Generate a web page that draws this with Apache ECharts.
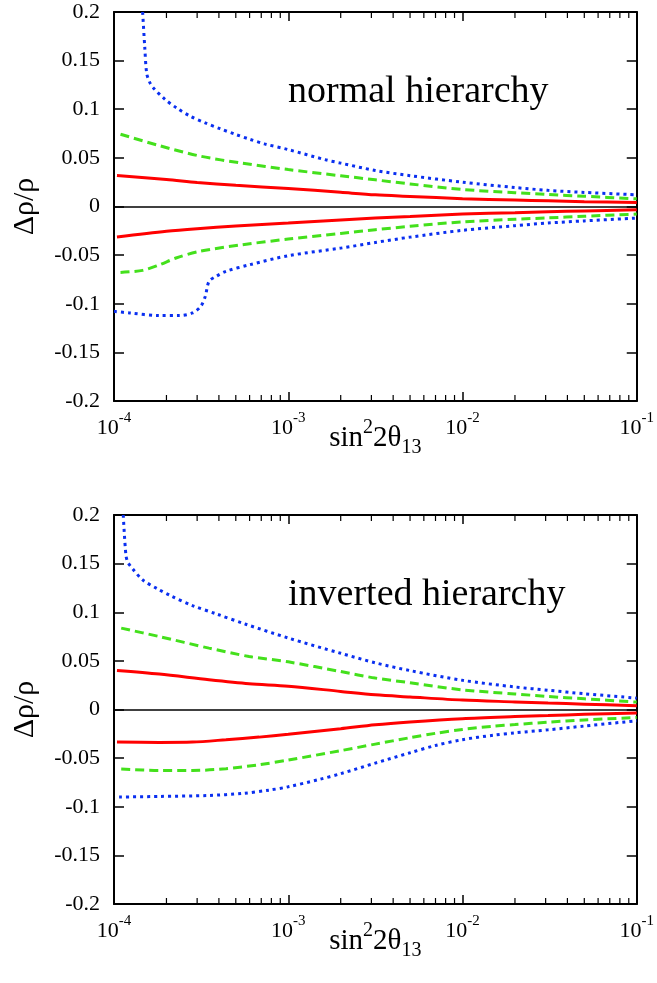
<!DOCTYPE html>
<html>
<head>
<meta charset="utf-8">
<script src="https://cdn.jsdelivr.net/npm/echarts@6/dist/echarts.min.js"></script>
<style>
html,body{margin:0;padding:0;background:#fff;}
#c{width:657px;height:983px;}
</style>
</head>
<body>
<div id="c"></div>
<script>
// ---- axis definitions ----
var xTickExponents = ['-4', '-3', '-2', '-1'];
var xMinorTicks = [2e-4,3e-4,4e-4,5e-4,6e-4,7e-4,8e-4,9e-4,2e-3,3e-3,4e-3,5e-3,6e-3,7e-3,8e-3,9e-3,2e-2,3e-2,4e-2,5e-2,6e-2,7e-2,8e-2,9e-2];
var yTickValues = [-0.2, -0.15, -0.1, -0.05, 0, 0.05, 0.1, 0.15, 0.2];
var panelTitles = ['normal hierarchy', 'inverted hierarchy'];

// ---- normal hierarchy ----
var nhRedUp = [[1.04e-4,0.0318],[2e-4,0.0278],[3e-4,0.0248],[5e-4,0.0218],[1e-3,0.0185],[2e-3,0.0146],[3.16e-3,0.0120],[5e-3,0.0104],[1e-2,0.0080],[2e-2,0.0066],[3.1e-2,0.0058],[5e-2,0.0050],[1e-1,0.0041]];
var nhRedLo = [[1.04e-4,-0.0314],[2e-4,-0.0255],[3e-4,-0.0228],[5e-4,-0.0200],[1e-3,-0.0170],[2e-3,-0.0139],[3.16e-3,-0.0119],[5e-3,-0.0102],[1e-2,-0.0077],[2e-2,-0.0063],[3.1e-2,-0.0054],[5e-2,-0.0045],[1e-1,-0.0034]];
var nhGreenUp = [[1.09e-4,0.0743],[1.82e-4,0.0626],[3.08e-4,0.0520],[5.46e-4,0.0445],[1e-3,0.0380],[2e-3,0.0316],[3.16e-3,0.0274],[5e-3,0.0232],[1e-2,0.0175],[2e-2,0.0142],[3.1e-2,0.0123],[5e-2,0.0105],[1e-1,0.0079]];
var nhGreenLo = [[1.09e-4,-0.0678],[1.46e-4,-0.0657],[1.82e-4,-0.0600],[2.27e-4,-0.0530],[3.08e-4,-0.0462],[5.46e-4,-0.0393],[1e-3,-0.0335],[2e-3,-0.0277],[3.16e-3,-0.0239],[5e-3,-0.0204],[1e-2,-0.0158],[2e-2,-0.0131],[3.1e-2,-0.0117],[5e-2,-0.0100],[1e-1,-0.0078]];
var nhBlueUp = [[1.46e-4,0.200],[1.50e-4,0.165],[1.54e-4,0.137],[1.60e-4,0.128],[1.67e-4,0.1226],[1.95e-4,0.1106],[2.30e-4,0.1010],[2.74e-4,0.0928],[3.34e-4,0.0859],[4.06e-4,0.0800],[4.95e-4,0.0743],[6.0e-4,0.0692],[7.3e-4,0.0644],[1e-3,0.0585],[1.64e-3,0.0480],[2e-3,0.0446],[3.16e-3,0.0370],[5e-3,0.0317],[1e-2,0.0250],[2e-2,0.0195],[3.1e-2,0.0166],[5e-2,0.0145],[1e-1,0.0120]];
var nhBlueLo = [[1e-4,-0.1078],[1.23e-4,-0.1095],[1.82e-4,-0.1122],[2.37e-4,-0.1122],[2.82e-4,-0.1095],[3.15e-4,-0.1027],[3.34e-4,-0.0924],[3.51e-4,-0.0770],[3.85e-4,-0.0719],[4.39e-4,-0.0667],[6.0e-4,-0.0599],[1e-3,-0.0506],[2e-3,-0.0428],[3.16e-3,-0.0370],[5e-3,-0.0315],[1e-2,-0.0245],[2e-2,-0.0197],[3.1e-2,-0.0170],[5e-2,-0.0148],[1e-1,-0.0119]];

// ---- inverted hierarchy ----
var ihRedUp = [[1.04e-4,0.0401],[1.82e-4,0.0364],[3.51e-4,0.0305],[5.96e-4,0.0264],[1e-3,0.0240],[2e-3,0.0186],[3.16e-3,0.0151],[5e-3,0.0129],[1e-2,0.0097],[2e-2,0.0078],[3.1e-2,0.0066],[5e-2,0.0055],[1e-1,0.0038]];
var ihRedLo = [[1.04e-4,-0.0335],[1.82e-4,-0.0339],[2.82e-4,-0.0335],[4.39e-4,-0.0311],[6.8e-4,-0.0284],[1e-3,-0.0255],[2e-3,-0.0198],[3.16e-3,-0.0157],[5e-3,-0.0128],[1e-2,-0.0094],[2e-2,-0.0073],[3.1e-2,-0.0062],[5e-2,-0.0050],[1e-1,-0.0037]];
var ihGreenUp = [[1.1e-4,0.0837],[1.82e-4,0.0750],[3.51e-4,0.0631],[5.96e-4,0.0545],[1e-3,0.0490],[2e-3,0.0390],[3.16e-3,0.0323],[5e-3,0.0275],[1e-2,0.0202],[2e-2,0.0160],[3.1e-2,0.0134],[5e-2,0.0110],[1e-1,0.0076]];
var ihGreenLo = [[1.1e-4,-0.0613],[1.82e-4,-0.0627],[2.82e-4,-0.0627],[4.39e-4,-0.0609],[6.8e-4,-0.0568],[1e-3,-0.0520],[2e-3,-0.0423],[3.16e-3,-0.0356],[5e-3,-0.0290],[7e-3,-0.0245],[1e-2,-0.0205],[1.5e-2,-0.0172],[2e-2,-0.0155],[3.1e-2,-0.0130],[5e-2,-0.0108],[1e-1,-0.0082]];
var ihBlueUp = [[1.13e-4,0.200],[1.17e-4,0.159],[1.20e-4,0.1515],[1.28e-4,0.1446],[1.46e-4,0.1333],[1.78e-4,0.1240],[2.12e-4,0.1169],[2.82e-4,0.1069],[3.85e-4,0.0984],[5.7e-4,0.0877],[1e-3,0.0735],[2e-3,0.0578],[3.16e-3,0.0480],[5e-3,0.0400],[1e-2,0.0300],[2e-2,0.0232],[3.1e-2,0.0198],[5e-2,0.0162],[1e-1,0.0117]];
var ihBlueLo = [[1.07e-4,-0.0900],[1.82e-4,-0.0894],[3.51e-4,-0.0884],[5.46e-4,-0.0863],[7.76e-4,-0.0829],[1e-3,-0.0795],[1.5e-3,-0.0720],[2e-3,-0.0660],[3.16e-3,-0.0551],[5e-3,-0.0445],[7e-3,-0.0370],[1e-2,-0.0310],[1.5e-2,-0.0265],[2e-2,-0.0240],[3.1e-2,-0.0209],[5e-2,-0.0170],[1e-1,-0.0116]];

var panels = [
  [nhRedUp, nhRedLo, nhGreenUp, nhGreenLo, nhBlueUp, nhBlueLo],
  [ihRedUp, ihRedLo, ihGreenUp, ihGreenLo, ihBlueUp, ihBlueLo]
];

var FONT = '"Liberation Serif", "Times New Roman", serif';
var RED = '#ff0000', GREEN = '#44e01c', BLUE = '#0a2ff0';
var styles = [
  {color: RED, type: 'solid'}, {color: RED, type: 'solid'},
  {color: GREEN, type: [9, 5]}, {color: GREEN, type: [9, 5]},
  {color: BLUE, type: [3, 4]}, {color: BLUE, type: [3, 4]}
];

var gridTops = [12, 515];
var grids = [], xAxes = [], yAxes = [], series = [], titles = [];

function xLabelFmt(v) {
  var e = Math.round(Math.log(v) / Math.LN10);
  return '{b|10}{s|' + xTickExponents[e + 4] + '}';
}
function yLabelFmt(v) {
  for (var i = 0; i < yTickValues.length; i++) {
    if (Math.abs(yTickValues[i] - v) < 1e-9) return String(yTickValues[i]);
  }
  return '';
}

var minorData = xMinorTicks.map(function (v) { return [v, 0]; });

for (var p = 0; p < 2; p++) {
  grids.push({left: 114, top: gridTops[p], width: 525, height: 389, containLabel: false});
  var axisLine = {show: true, onZero: false, lineStyle: {color: '#000', width: 2}};
  xAxes.push({
    type: 'log', logBase: 10, min: 1e-4, max: 1e-1, gridIndex: p, position: 'bottom',
    axisLine: axisLine,
    axisTick: {show: true, inside: true, length: 9, lineStyle: {color: '#000', width: 1.5}},
    minorTick: {show: false},
    splitLine: {show: false},
    axisLabel: {
      show: true, margin: 10, showMinLabel: true, showMaxLabel: true,
      formatter: xLabelFmt, color: '#000',
      rich: {
        b: {fontFamily: FONT, fontSize: 22, color: '#000', lineHeight: 28, verticalAlign: 'bottom'},
        s: {fontFamily: FONT, fontSize: 15, color: '#000', lineHeight: 28, verticalAlign: 'top'}
      }
    },
    name: '{a|sin}{p|2}{a|2θ}{d|13}',
    nameLocation: 'middle', nameGap: 17, nameMoveOverlap: false,
    nameTextStyle: {
      rich: {
        a: {fontFamily: FONT, fontSize: 29, color: '#000', lineHeight: 40, verticalAlign: 'middle'},
        p: {fontFamily: FONT, fontSize: 20, color: '#000', lineHeight: 40, verticalAlign: 'top'},
        d: {fontFamily: FONT, fontSize: 20, color: '#000', lineHeight: 40, verticalAlign: 'bottom'}
      }
    }
  });
  xAxes.push({
    type: 'log', logBase: 10, min: 1e-4, max: 1e-1, gridIndex: p, position: 'top',
    axisLine: axisLine,
    axisTick: {show: true, inside: true, length: 9, lineStyle: {color: '#000', width: 1.5}},
    minorTick: {show: false},
    splitLine: {show: false}, axisLabel: {show: false}
  });
  yAxes.push({
    type: 'value', min: -0.2, max: 0.2, interval: 0.05, gridIndex: p, position: 'left',
    axisLine: axisLine,
    axisTick: {show: true, inside: true, length: 10, lineStyle: {color: '#000', width: 1.5}},
    splitLine: {show: false},
    axisLabel: {show: true, margin: 14, formatter: yLabelFmt, color: '#000', fontFamily: FONT, fontSize: 22},
    name: 'Δρ/ρ', nameLocation: 'middle', nameGap: 74, nameRotate: 90, nameMoveOverlap: false,
    nameTextStyle: {fontFamily: FONT, fontSize: 30, color: '#000'}
  });
  yAxes.push({
    type: 'value', min: -0.2, max: 0.2, interval: 0.05, gridIndex: p, position: 'right',
    axisLine: axisLine,
    axisTick: {show: true, inside: true, length: 10, lineStyle: {color: '#000', width: 1.5}},
    splitLine: {show: false}, axisLabel: {show: false}
  });
  for (var s = 0; s < 6; s++) {
    var ser = {
      type: 'line', xAxisIndex: p * 2, yAxisIndex: p * 2,
      data: panels[p][s], showSymbol: false, symbol: 'none', smooth: 0.3,
      lineStyle: {color: styles[s].color, width: 3, type: styles[s].type, cap: 'butt'},
      silent: true, animation: false, z: 3
    };
    if (s === 0) {
      ser.markLine = {
        silent: true, symbol: ['none', 'none'], label: {show: false}, animation: false,
        lineStyle: {color: '#000', width: 1.5, type: 'solid'},
        data: [{yAxis: 0}]
      };
    }
    series.push(ser);
  }
  series.push({
    type: 'custom', xAxisIndex: p * 2, yAxisIndex: p * 2, silent: true, clip: false,
    encode: {x: 0, y: 1}, data: minorData, z: 5, animation: false,
    renderItem: function (params, api) {
      var x = api.value(0);
      var b = api.coord([x, -0.2]);
      var t = api.coord([x, 0.2]);
      var st = {stroke: '#000', lineWidth: 1.2};
      return {type: 'group', children: [
        {type: 'line', shape: {x1: b[0], y1: b[1], x2: b[0], y2: b[1] - 6}, style: st},
        {type: 'line', shape: {x1: t[0], y1: t[1], x2: t[0], y2: t[1] + 6}, style: st}
      ]};
    }
  });
  titles.push({
    text: panelTitles[p], left: 283, top: gridTops[p] + 56,
    textStyle: {fontFamily: FONT, fontSize: 38, fontWeight: 'normal', color: '#000'}
  });
}

var chart = echarts.init(document.getElementById('c'), null, {renderer: 'canvas'});
chart.setOption({
  animation: false,
  backgroundColor: '#fff',
  title: titles,
  grid: grids,
  xAxis: xAxes,
  yAxis: yAxes,
  series: series
});
</script>
</body>
</html>
